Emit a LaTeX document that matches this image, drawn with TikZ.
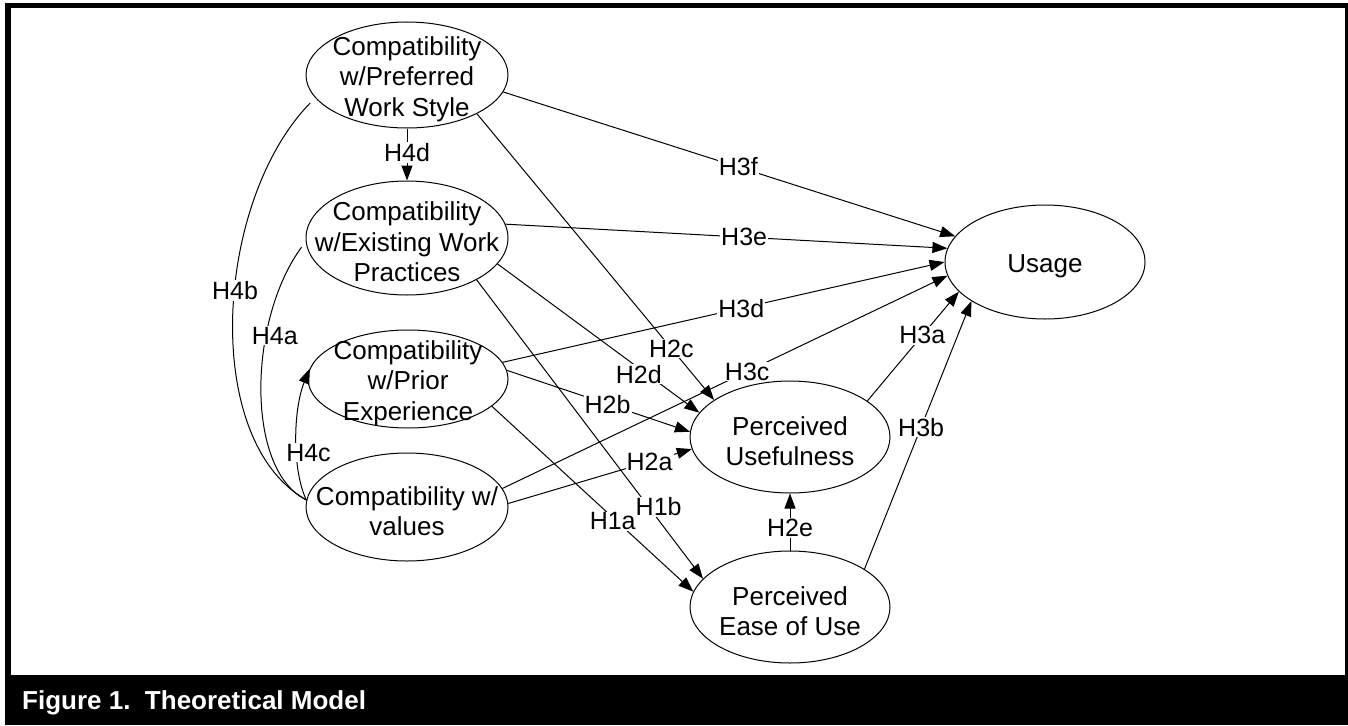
\documentclass[tikz,border=0pt]{standalone}
\usepackage{fontspec}
\setmainfont{Liberation Sans}
\usetikzlibrary{shapes.geometric,arrows.meta}
\newcommand\lf{\fontsize{26}{30.5}\selectfont}
\newcommand\labf{\fontsize{25}{30}\selectfont}
\newcommand\capf{\fontsize{26}{30}\selectfont}
\tikzset{
  cons/.style={ellipse, draw=black, line width=1pt, inner sep=0pt},
  txt/.style={align=center, font=\lf, inner sep=0pt, yshift=-4pt},
  lab/.style={fill=white, inner sep=1pt, font=\labf},
  conn/.style={line width=1pt},
  arr/.style={conn, -{Triangle[length=15pt,width=11pt]}},
}
\begin{document}
\begin{tikzpicture}[x=1pt,y=1pt]
\useasboundingbox (0,0) rectangle (1348,-725);
\fill[white] (0,0) rectangle (1348,-725);
% frame
\fill[black] (5,-3) rectangle (1348,-8);
\fill[black] (5,-3) rectangle (11,-725);
\fill[black] (1345,-3) rectangle (1348,-725);
\fill[black] (5,-675) rectangle (1348,-725);
\node[font=\bfseries\capf, text=white, anchor=west, inner sep=0pt] (cap) at (22,-703) {Figure 1.~~Theoretical Model};

% constructs
\node[cons, minimum width=202pt, minimum height=106pt,
  label={[txt]center:{Compatibility\\w/Preferred\\Work Style}}] (pws) at (407,-75) {};
\node[cons, minimum width=202pt, minimum height=114pt,
  label={[txt]center:{Compatibility\\w/Existing Work\\Practices}}] (ewp) at (407,-238) {};
\node[cons, minimum width=200pt, minimum height=98pt,
  label={[txt]center:{Compatibility\\w/Prior\\Experience}}] (pe) at (408,-379) {};
\node[cons, minimum width=202pt, minimum height=108pt,
  label={[txt]center:{Compatibility w/\\values}}] (cv) at (407,-507) {};
\node[cons, minimum width=200pt, minimum height=112pt,
  label={[txt]center:{Perceived\\Usefulness}}] (pu) at (790,-437) {};
\node[cons, minimum width=200pt, minimum height=112pt,
  label={[txt]center:{Perceived\\Ease of Use}}] (peou) at (790,-607) {};
\node[cons, minimum width=200pt, minimum height=114pt,
  label={[txt]center:{Usage}}] (use) at (1045,-262) {};

% connectors
\draw[arr] (pws.-90) -- node[lab,pos=0.46]{H4d} (ewp.90);
\draw[arr] (pws.-10.2) -- node[lab,pos=0.52]{H3f} (use.164.8);
\draw[arr] (ewp.8.2) -- node[lab,pos=0.54]{H3e} (use.172);
\draw[arr] (pe.10.6) -- node[lab,pos=0.54]{H3d} (use.180);
\draw[arr] (cv.11.9) -- node[lab,pos=0.55]{H3c} (use.188.7);
\draw[arr] (pu.25.1) -- node[lab,pos=0.6]{H3a} (use.199);
\draw[arr] (peou.27.2) -- node[lab,pos=0.53]{H3b} (use.208.4);
\draw[arr] (pws.-29.2) -- node[lab,pos=0.82]{H2c} (pu.154.6);
\draw[arr] (ewp.-16.5) -- node[lab,pos=0.7,yshift=-6pt]{H2d} (pu.165.5);
\draw[arr] (ewp.-31) -- node[lab,pos=0.76,xshift=10pt]{H1b} (peou.162.3);
\draw[arr] (pe.5.1) -- node[lab,pos=0.55]{H2b} (pu.177);
\draw[arr] (pe.-18.9) -- node[lab,pos=0.6,yshift=-4pt]{H1a} (peou.171.9);
\draw[arr] (cv.2.2) -- node[lab,pos=0.77]{H2a} (pu.187.6);
\draw[arr] (peou.90) -- node[lab,pos=0.4]{H2e} (pu.-90);

\draw[conn, shorten >=7pt] (cv.176) .. controls (200,-440) and (215,-200) .. node[lab,pos=0.55]{H4b} (pws.194);
\draw[conn, shorten >=7pt] (cv.176) .. controls (245,-470) and (248,-320) .. node[lab,pos=0.67,xshift=8pt]{H4a} (ewp.182);
\draw[arr] (cv.176) .. controls (292,-470) and (293,-410) .. node[lab,pos=0.4,xshift=12pt]{H4c} (pe.174);
\end{tikzpicture}
\end{document}
